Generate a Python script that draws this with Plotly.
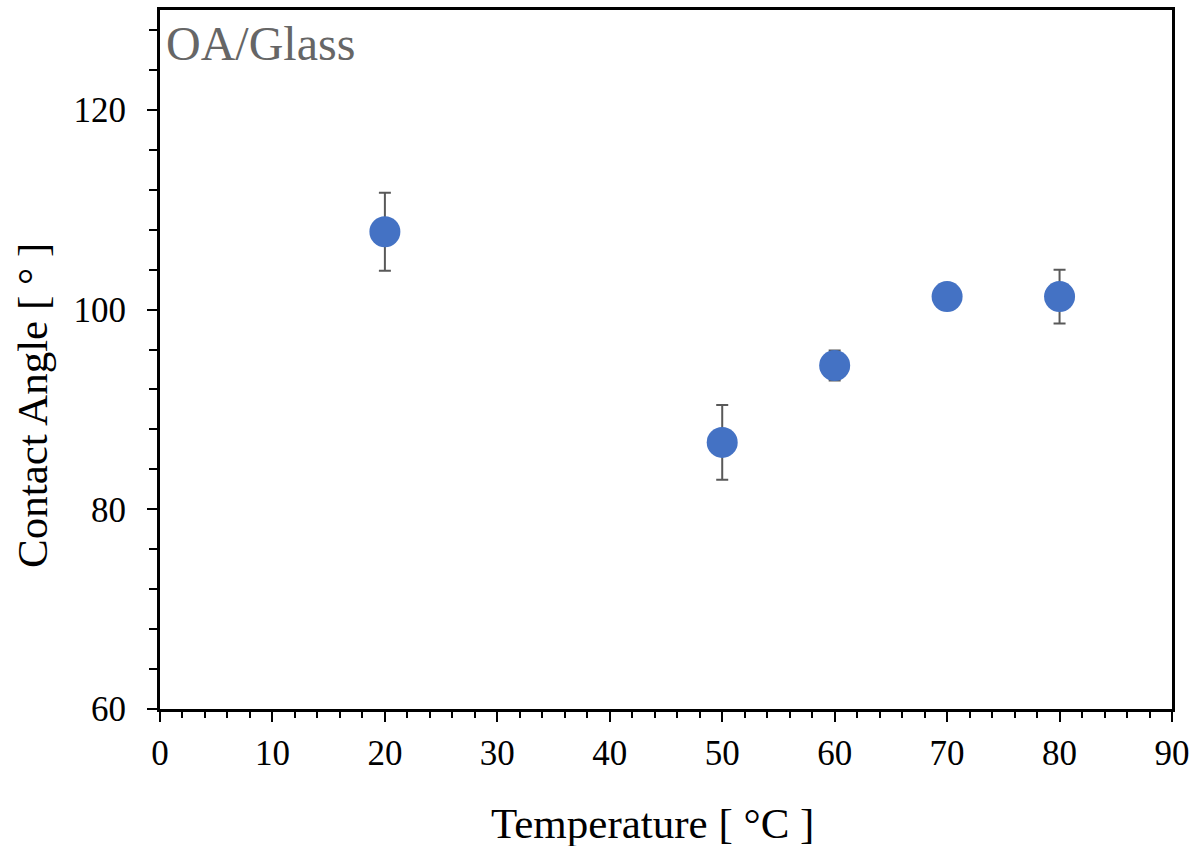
import plotly.graph_objects as go

temperature = [20, 50, 60, 70, 80]
contact_angle = [107.8, 86.7, 94.4, 101.3, 101.3]
error = [3.9, 3.75, 1.5, 0.8, 2.7]

x_ticks = [0, 10, 20, 30, 40, 50, 60, 70, 80, 90]
y_ticks = [60, 80, 100, 120]

FONT = "Liberation Serif"
L, R, T, B = 160, 27, 10, 137
W, H = 1199, 846
PW, PH = W - L - R, H - T - B

fig = go.Figure()
fig.add_trace(go.Scatter(
    x=temperature, y=contact_angle, mode="markers",
    marker=dict(size=31, color="#4472C4"),
    error_y=dict(type="data", array=error, visible=True, color="#595959", thickness=2, width=6),
    showlegend=False,
))

fig.update_layout(
    width=W, height=H,
    margin=dict(l=L, r=R, t=T, b=B, autoexpand=False),
    plot_bgcolor="white", paper_bgcolor="white",
    font=dict(family=FONT, size=35, color="black"),
    xaxis=dict(
        range=[0, 90], tickvals=x_ticks, ticks="outside", ticklen=10, tickwidth=2, tickcolor="black",
        showline=True, linecolor="black", linewidth=3, mirror=True, showgrid=False, zeroline=False,
        minor=dict(dtick=2, ticks="outside", ticklen=6, tickwidth=2, tickcolor="black", showgrid=False),
        tickfont=dict(size=35), ticklabelstandoff=1, automargin=False,
    ),
    yaxis=dict(
        range=[60, 130], tickvals=y_ticks, ticks="outside", ticklen=10, tickwidth=2, tickcolor="black",
        showline=True, linecolor="black", linewidth=3, mirror=True, showgrid=False, zeroline=False,
        minor=dict(dtick=4, ticks="outside", ticklen=8, tickwidth=2, tickcolor="black", showgrid=False),
        tickfont=dict(size=35), ticklabelstandoff=14, automargin=False,
    ),
    annotations=[
        dict(text="OA/Glass", xref="paper", yref="paper", x=0.004, y=0.993,
             xanchor="left", yanchor="top", showarrow=False,
             font=dict(family=FONT, size=48, color="#666666")),
        dict(text="Temperature [ °C ]", xref="paper", yref="paper",
             x=(652 - L) / PW, y=-(823 - (T + PH)) / PH,
             xanchor="center", yanchor="middle", showarrow=False,
             font=dict(family=FONT, size=43, color="black")),
        dict(text="Contact Angle [ ° ]", xref="paper", yref="paper", textangle=-90,
             x=-(L - 32) / PW, y=1 - (406 - T) / PH,
             xanchor="center", yanchor="middle", showarrow=False,
             font=dict(family=FONT, size=43, color="black")),
    ],
)

fig.write_html("out.html")
